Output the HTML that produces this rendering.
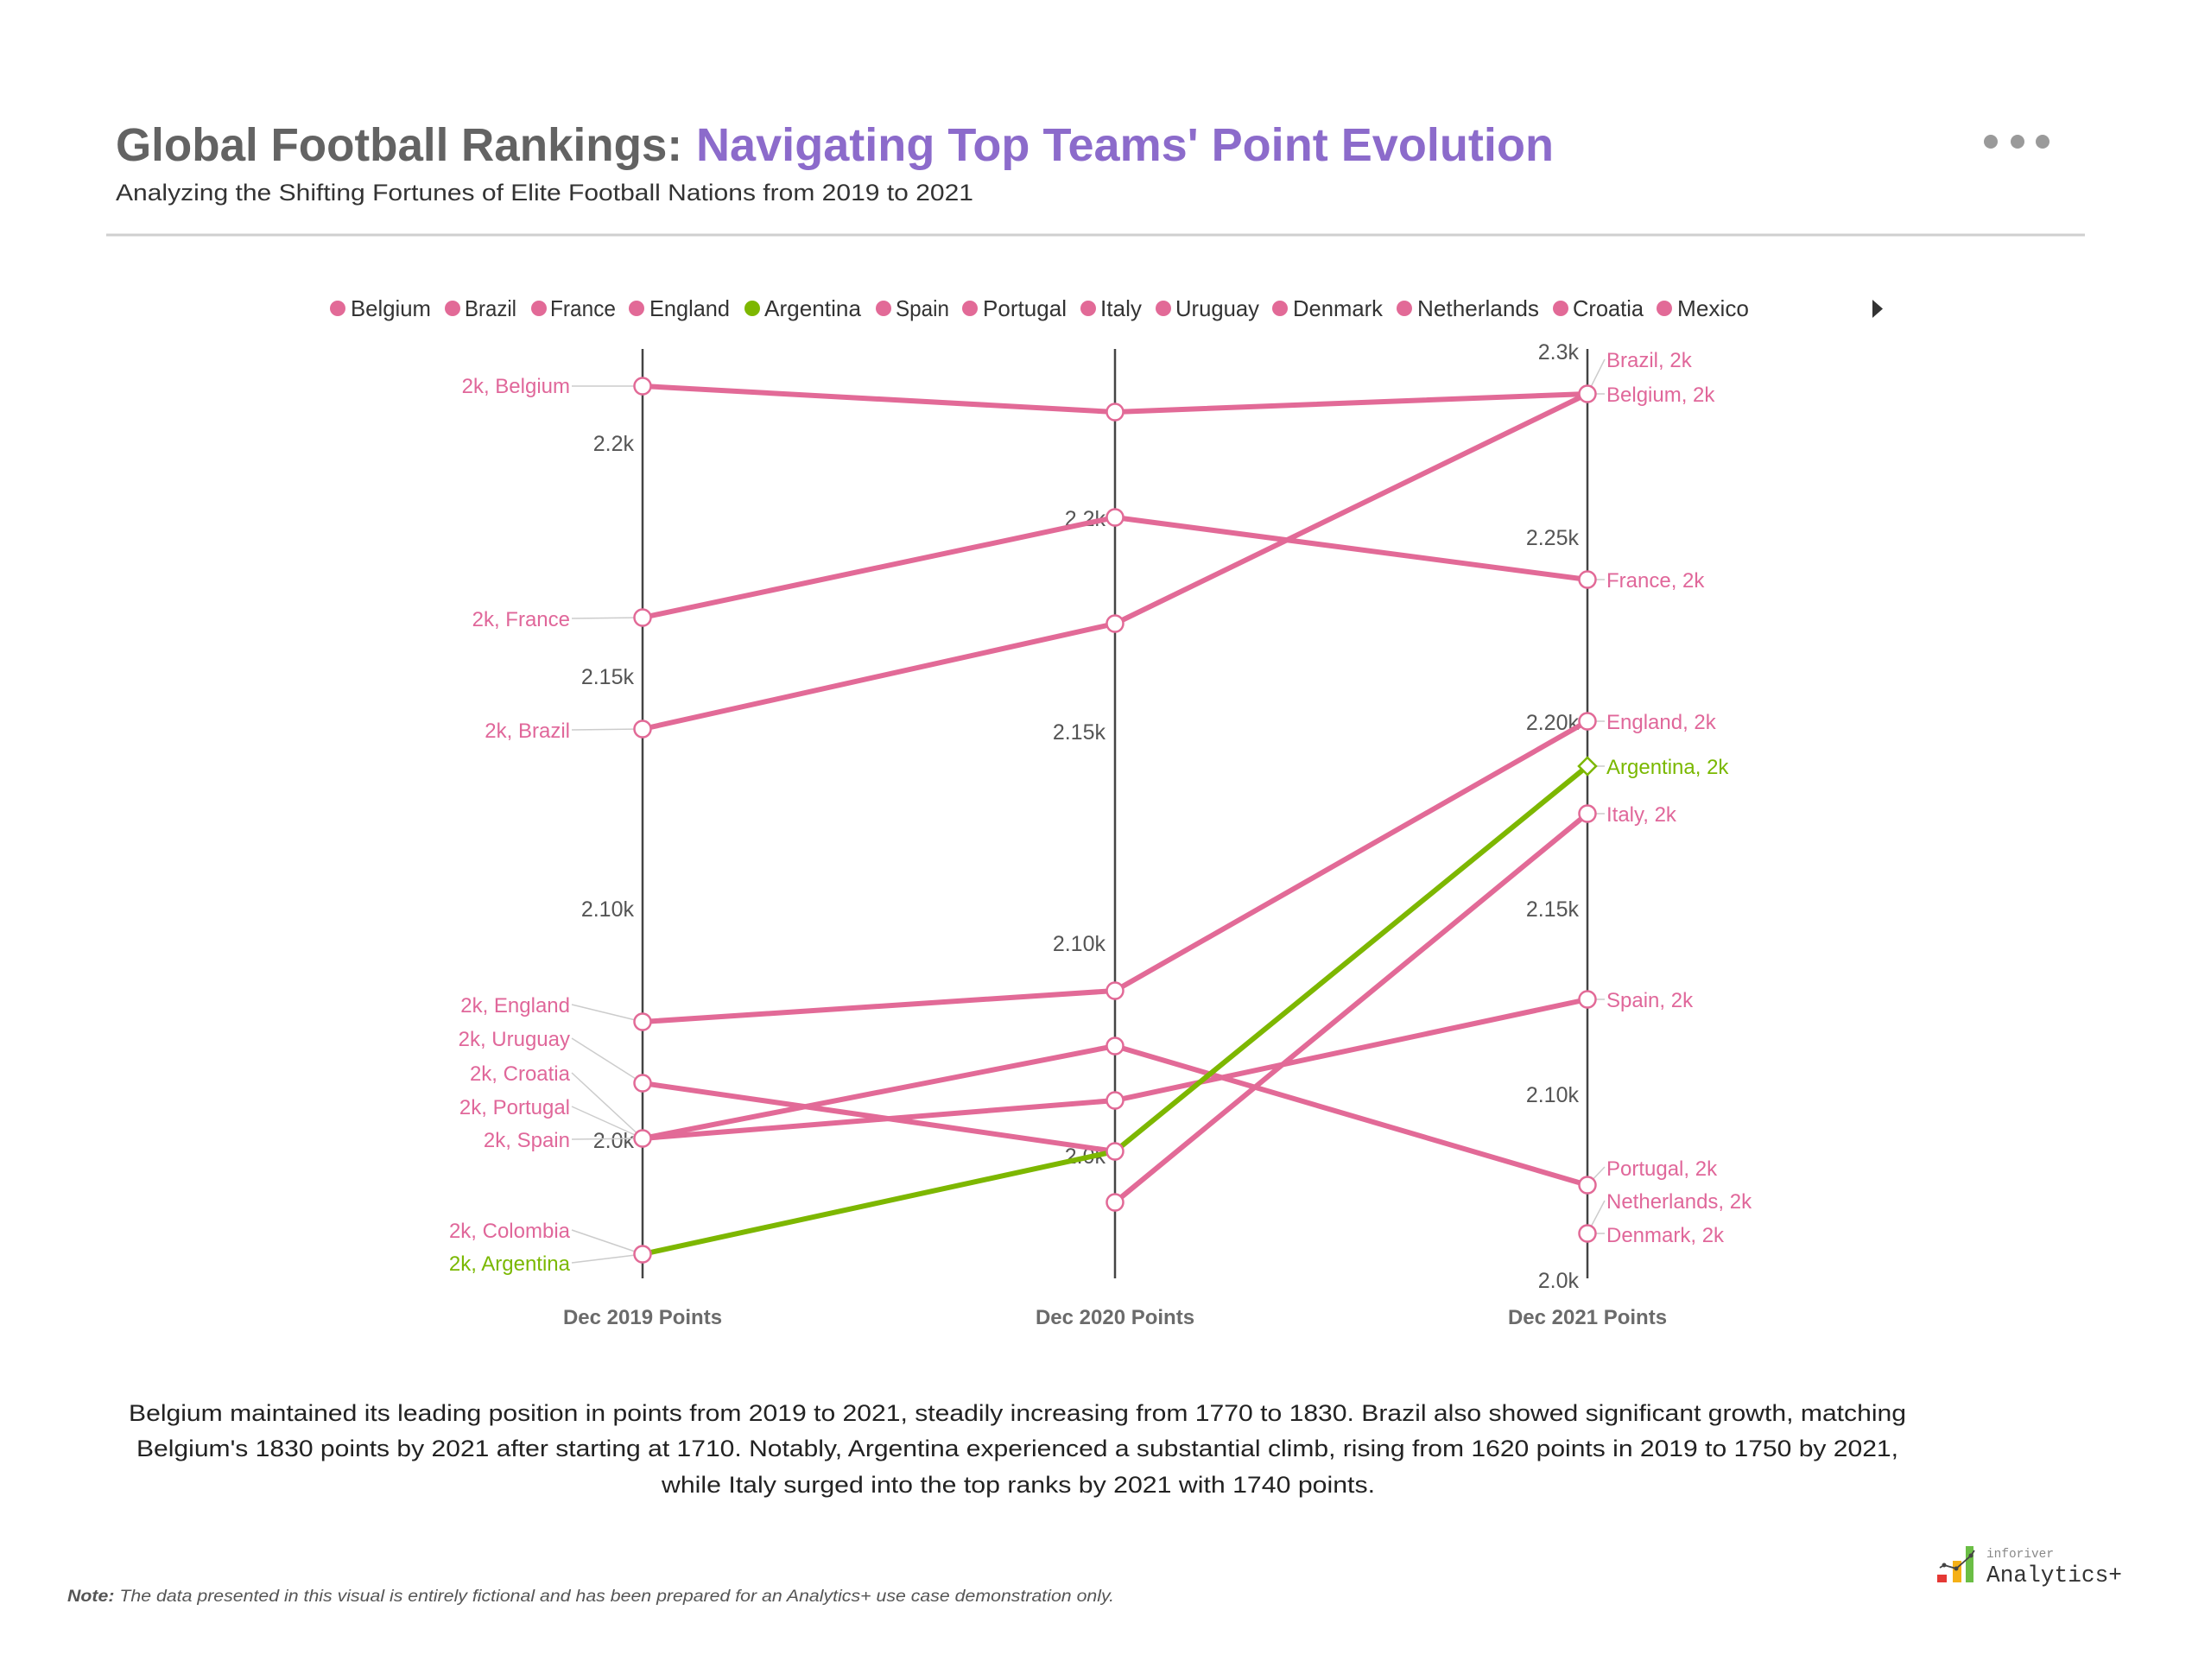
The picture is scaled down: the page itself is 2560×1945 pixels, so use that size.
<!DOCTYPE html>
<html>
<head>
<meta charset="utf-8">
<style>
  html,body{margin:0;padding:0;background:#fff;}
  svg{display:block;}
  text{font-family:"Liberation Sans",Arial,sans-serif;}
</style>
</head>
<body>
<svg width="2560" height="1945" viewBox="0 0 2560 1945" xmlns="http://www.w3.org/2000/svg">
  <rect width="2560" height="1945" fill="#ffffff"/>

  <!-- Title -->
  <text x="134" y="186" font-size="54" font-weight="bold" fill="#636363" textLength="656" lengthAdjust="spacingAndGlyphs">Global Football Rankings:</text>
  <text x="806" y="186" font-size="54" font-weight="bold" fill="#8C6BCB" textLength="993" lengthAdjust="spacingAndGlyphs">Navigating Top Teams' Point Evolution</text>
  <text x="134" y="232" font-size="27" fill="#333" textLength="993" lengthAdjust="spacingAndGlyphs">Analyzing the Shifting Fortunes of Elite Football Nations from 2019 to 2021</text>

  <!-- menu dots -->
  <circle cx="2305" cy="164" r="8" fill="#9a9a9a"/>
  <circle cx="2336" cy="164" r="8" fill="#9a9a9a"/>
  <circle cx="2365" cy="164" r="8" fill="#9a9a9a"/>

  <!-- divider -->
  <line x1="123" y1="272" x2="2414" y2="272" stroke="#cfcfcf" stroke-width="3"/>

  <!-- Legend -->
  <g font-size="26" fill="#333">
    <circle cx="391" cy="357" r="9" fill="#E26A97"/><text x="406" y="366" textLength="93" lengthAdjust="spacingAndGlyphs">Belgium</text>
    <circle cx="524" cy="357" r="9" fill="#E26A97"/><text x="538" y="366" textLength="60" lengthAdjust="spacingAndGlyphs">Brazil</text>
    <circle cx="624" cy="357" r="9" fill="#E26A97"/><text x="637" y="366" textLength="76" lengthAdjust="spacingAndGlyphs">France</text>
    <circle cx="737" cy="357" r="9" fill="#E26A97"/><text x="752" y="366" textLength="93" lengthAdjust="spacingAndGlyphs">England</text>
    <circle cx="871" cy="357" r="9" fill="#7DB700"/><text x="885" y="366" textLength="112" lengthAdjust="spacingAndGlyphs">Argentina</text>
    <circle cx="1023" cy="357" r="9" fill="#E26A97"/><text x="1037" y="366" textLength="62" lengthAdjust="spacingAndGlyphs">Spain</text>
    <circle cx="1123" cy="357" r="9" fill="#E26A97"/><text x="1138" y="366" textLength="97" lengthAdjust="spacingAndGlyphs">Portugal</text>
    <circle cx="1260" cy="357" r="9" fill="#E26A97"/><text x="1274" y="366" textLength="48" lengthAdjust="spacingAndGlyphs">Italy</text>
    <circle cx="1347" cy="357" r="9" fill="#E26A97"/><text x="1361" y="366" textLength="97" lengthAdjust="spacingAndGlyphs">Uruguay</text>
    <circle cx="1482" cy="357" r="9" fill="#E26A97"/><text x="1497" y="366" textLength="104" lengthAdjust="spacingAndGlyphs">Denmark</text>
    <circle cx="1626" cy="357" r="9" fill="#E26A97"/><text x="1641" y="366" textLength="141" lengthAdjust="spacingAndGlyphs">Netherlands</text>
    <circle cx="1807" cy="357" r="9" fill="#E26A97"/><text x="1821" y="366" textLength="82" lengthAdjust="spacingAndGlyphs">Croatia</text>
    <circle cx="1927" cy="357" r="9" fill="#E26A97"/><text x="1942" y="366" textLength="83" lengthAdjust="spacingAndGlyphs">Mexico</text>
  </g>
  <polygon points="2168,347 2180,357.5 2168,368" fill="#333"/>

  <!-- Axes -->
  <g stroke="#444" stroke-width="2.5">
    <line x1="744" y1="404" x2="744" y2="1480"/>
    <line x1="1291" y1="404" x2="1291" y2="1480"/>
    <line x1="1838" y1="404" x2="1838" y2="1480"/>
  </g>

  <!-- Tick labels -->
  <g font-size="25" fill="#555" text-anchor="end">
    <text x="734" y="522">2.2k</text>
    <text x="734" y="792">2.15k</text>
    <text x="734" y="1061">2.10k</text>
    <text x="734" y="1329">2.0k</text>

    <text x="1280" y="609">2.2k</text>
    <text x="1280" y="856">2.15k</text>
    <text x="1280" y="1101">2.10k</text>
    <text x="1280" y="1347">2.0k</text>

    <text x="1828" y="416">2.3k</text>
    <text x="1828" y="631">2.25k</text>
    <text x="1828" y="845">2.20k</text>
    <text x="1828" y="1061">2.15k</text>
    <text x="1828" y="1276">2.10k</text>
    <text x="1828" y="1491">2.0k</text>
  </g>

  <!-- Axis titles -->
  <g font-size="24" font-weight="bold" fill="#6b6b6b" text-anchor="middle">
    <text x="744" y="1533">Dec 2019 Points</text>
    <text x="1291" y="1533">Dec 2020 Points</text>
    <text x="1838" y="1533">Dec 2021 Points</text>
  </g>

  <!-- Leader lines -->
  <g stroke="#cccccc" stroke-width="1.5" fill="none">
    <line x1="662" y1="447" x2="744" y2="447"/>
    <line x1="662" y1="716" x2="744" y2="715"/>
    <line x1="662" y1="845" x2="744" y2="844"/>
    <line x1="662" y1="1163" x2="744" y2="1183"/>
    <line x1="662" y1="1202" x2="744" y2="1254"/>
    <line x1="662" y1="1242" x2="744" y2="1318"/>
    <line x1="662" y1="1281" x2="744" y2="1318"/>
    <line x1="662" y1="1319" x2="744" y2="1318"/>
    <line x1="662" y1="1424" x2="744" y2="1452"/>
    <line x1="662" y1="1462" x2="744" y2="1452"/>

    <line x1="1838" y1="456" x2="1858" y2="416"/>
    <line x1="1838" y1="456" x2="1858" y2="456"/>
    <line x1="1838" y1="671" x2="1858" y2="671"/>
    <line x1="1838" y1="835" x2="1858" y2="835"/>
    <line x1="1838" y1="887" x2="1858" y2="887"/>
    <line x1="1838" y1="942" x2="1858" y2="942"/>
    <line x1="1838" y1="1157" x2="1858" y2="1157"/>
    <line x1="1838" y1="1372" x2="1858" y2="1351"/>
    <line x1="1838" y1="1428" x2="1858" y2="1390"/>
    <line x1="1838" y1="1428" x2="1858" y2="1428"/>
  </g>

  <!-- Series lines -->
  <g fill="none" stroke="#E26A97" stroke-width="6" stroke-linejoin="round" stroke-linecap="round">
    <polyline points="744,447 1291,477 1838,456"/>
    <polyline points="744,715 1291,599 1838,671"/>
    <polyline points="744,844 1291,722 1838,456"/>
    <polyline points="744,1183 1291,1147 1838,835"/>
    <polyline points="744,1254 1291,1333"/>
    <polyline points="744,1318 1291,1211 1838,1372"/>
    <polyline points="744,1318 1291,1274 1838,1157"/>
    <polyline points="1291,1392 1838,942"/>
  </g>
  <polyline points="744,1452 1291,1333 1838,887" fill="none" stroke="#7DB700" stroke-width="6" stroke-linejoin="round" stroke-linecap="round"/>

  <!-- Markers -->
  <g fill="#fff" stroke="#E26A97" stroke-width="2.5">
    <circle cx="744" cy="447" r="9.5"/>
    <circle cx="744" cy="715" r="9.5"/>
    <circle cx="744" cy="844" r="9.5"/>
    <circle cx="744" cy="1183" r="9.5"/>
    <circle cx="744" cy="1254" r="9.5"/>
    <circle cx="744" cy="1318" r="9.5"/>
    <circle cx="744" cy="1452" r="9.5"/>

    <circle cx="1291" cy="477" r="9.5"/>
    <circle cx="1291" cy="599" r="9.5"/>
    <circle cx="1291" cy="722" r="9.5"/>
    <circle cx="1291" cy="1147" r="9.5"/>
    <circle cx="1291" cy="1211" r="9.5"/>
    <circle cx="1291" cy="1274" r="9.5"/>
    <circle cx="1291" cy="1333" r="9.5"/>
    <circle cx="1291" cy="1392" r="9.5"/>

    <circle cx="1838" cy="456" r="9.5"/>
    <circle cx="1838" cy="671" r="9.5"/>
    <circle cx="1838" cy="835" r="9.5"/>
    <circle cx="1838" cy="942" r="9.5"/>
    <circle cx="1838" cy="1157" r="9.5"/>
    <circle cx="1838" cy="1372" r="9.5"/>
    <circle cx="1838" cy="1428" r="9.5"/>
  </g>
  <polygon points="1838,877 1848,887 1838,897 1828,887" fill="#fff" stroke="#7DB700" stroke-width="2.5"/>

  <!-- Data labels left -->
  <g font-size="24" fill="#E0679A" text-anchor="end">
    <text x="660" y="455">2k, Belgium</text>
    <text x="660" y="725">2k, France</text>
    <text x="660" y="854">2k, Brazil</text>
    <text x="660" y="1172">2k, England</text>
    <text x="660" y="1211">2k, Uruguay</text>
    <text x="660" y="1251">2k, Croatia</text>
    <text x="660" y="1290">2k, Portugal</text>
    <text x="660" y="1328">2k, Spain</text>
    <text x="660" y="1433">2k, Colombia</text>
    <text x="660" y="1471" fill="#7AB800">2k, Argentina</text>
  </g>

  <!-- Data labels right -->
  <g font-size="24" fill="#E0679A">
    <text x="1860" y="425">Brazil, 2k</text>
    <text x="1860" y="465">Belgium, 2k</text>
    <text x="1860" y="680">France, 2k</text>
    <text x="1860" y="844">England, 2k</text>
    <text x="1860" y="896" fill="#7AB800">Argentina, 2k</text>
    <text x="1860" y="951">Italy, 2k</text>
    <text x="1860" y="1166">Spain, 2k</text>
    <text x="1860" y="1361">Portugal, 2k</text>
    <text x="1860" y="1399">Netherlands, 2k</text>
    <text x="1860" y="1438">Denmark, 2k</text>
  </g>

  <!-- Summary paragraph -->
  <g font-size="27" fill="#222" text-anchor="middle">
    <text x="1178" y="1645" textLength="2058" lengthAdjust="spacingAndGlyphs">Belgium maintained its leading position in points from 2019 to 2021, steadily increasing from 1770 to 1830. Brazil also showed significant growth, matching</text>
    <text x="1178" y="1686" textLength="2040" lengthAdjust="spacingAndGlyphs">Belgium's 1830 points by 2021 after starting at 1710. Notably, Argentina experienced a substantial climb, rising from 1620 points in 2019 to 1750 by 2021,</text>
    <text x="1179" y="1728" textLength="826" lengthAdjust="spacingAndGlyphs">while Italy surged into the top ranks by 2021 with 1740 points.</text>
  </g>

  <!-- Note -->
  <text x="78" y="1854" font-size="19" font-style="italic" fill="#555" textLength="1212" lengthAdjust="spacingAndGlyphs"><tspan font-weight="bold">Note:</tspan> The data presented in this visual is entirely fictional and has been prepared for an Analytics+ use case demonstration only.</text>

  <!-- Logo -->
  <rect x="2243" y="1823" width="11" height="9" fill="#E53935"/>
  <rect x="2261" y="1807" width="10" height="25" fill="#F5B016"/>
  <rect x="2276" y="1790" width="9" height="42" fill="#6BBE45"/>
  <polyline points="2246,1815 2251,1812 2265,1816 2282,1801 2286,1795" fill="none" stroke="#444" stroke-width="1.8"/>
  <circle cx="2251" cy="1812" r="2.5" fill="#444"/>
  <circle cx="2265" cy="1816" r="2.5" fill="#444"/>
  <circle cx="2282" cy="1801" r="2.5" fill="#444"/>
  <text x="2300" y="1803" style="font-family:'Liberation Mono',monospace;" font-size="15" fill="#888" textLength="78" lengthAdjust="spacingAndGlyphs">inforiver</text>
  <text x="2300" y="1831" style="font-family:'Liberation Mono',monospace;" font-size="27" fill="#333" textLength="157" lengthAdjust="spacingAndGlyphs">Analytics+</text>
</svg>
</body>
</html>
